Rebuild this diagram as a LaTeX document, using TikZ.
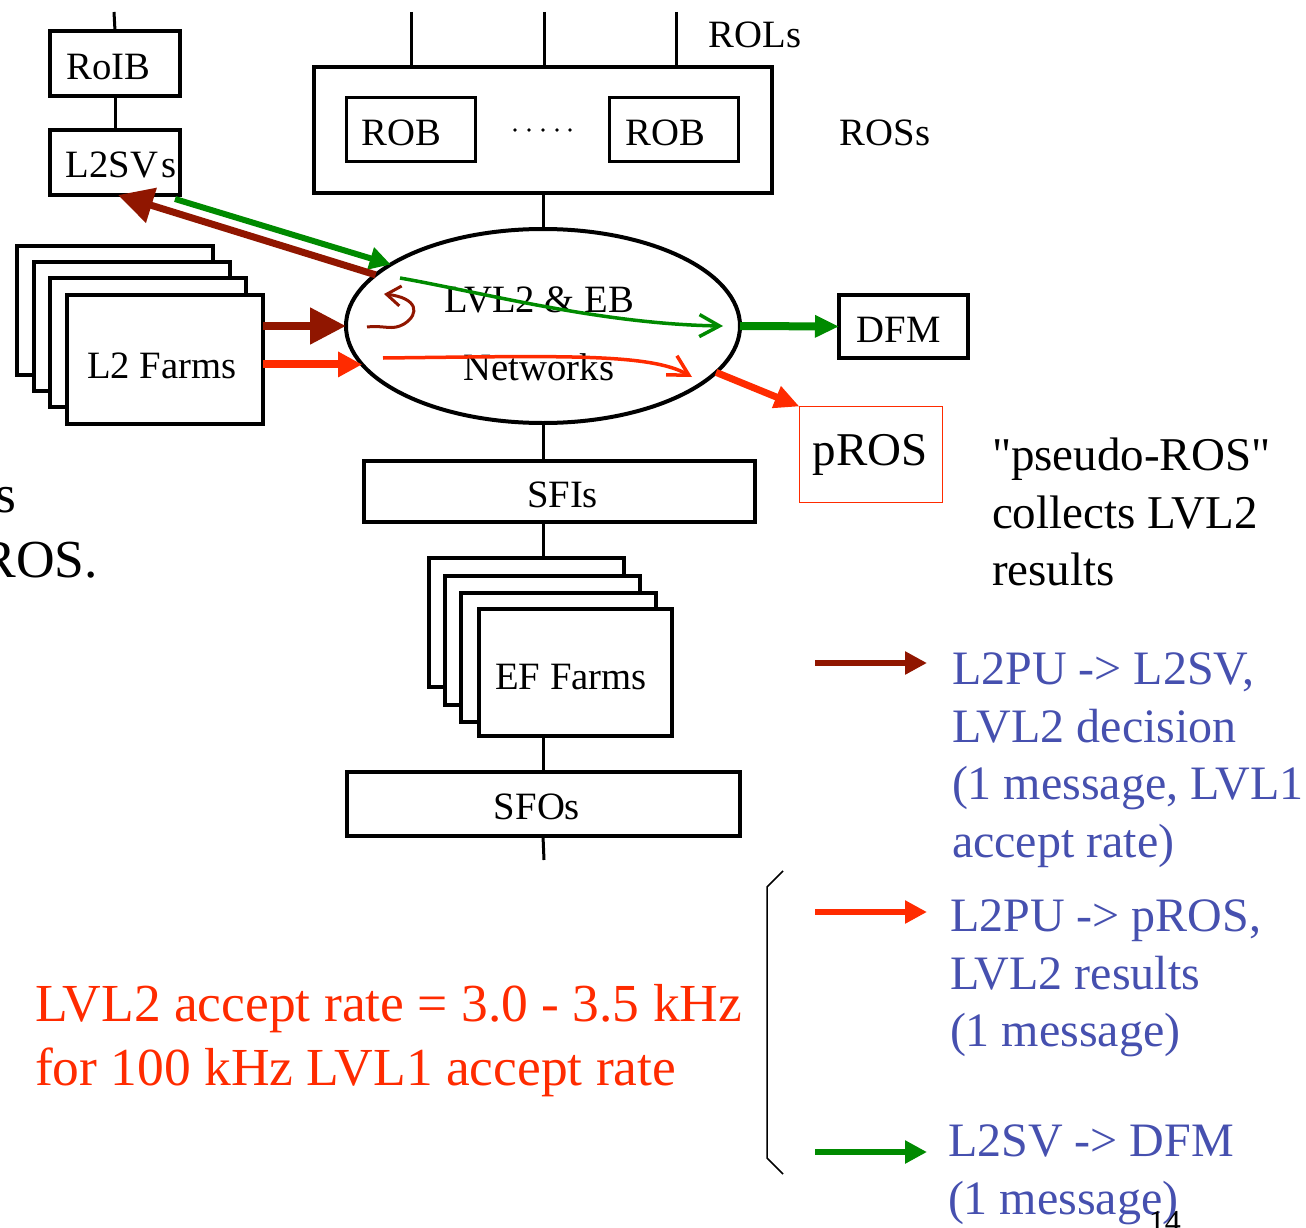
\documentclass[tikz,border=0pt]{standalone}
\usepackage{fontspec}
\setmainfont{Liberation Serif}
% same face without TeX ligatures, so that " stays a straight quote
\newfontfamily\plainserif{Liberation Serif}
\usetikzlibrary{arrows.meta,shapes.geometric}
\definecolor{decisionred}{HTML}{901600}
\definecolor{resultred}{HTML}{FF2B00}
\definecolor{dfmgreen}{HTML}{008A00}
\definecolor{legendblue}{HTML}{4650AF}
\newcommand\diagfont{\fontsize{38.7}{46}\selectfont}
\newcommand\notefont{\fontsize{47}{57.5}\selectfont}
\newcommand\legfont{\fontsize{48}{57.5}\selectfont}
\newcommand\ratefont{\fontsize{53.5}{64}\selectfont}
\begin{document}
\begin{tikzpicture}[x=1pt,y=-1pt,
  box/.style={draw, rectangle, line width=4pt, inner sep=0pt, outer sep=0pt,
              fill=white, font=\diagfont},
  robbox/.style={box, line width=3pt, minimum width=129pt, minimum height=64pt},
  farm/.style={box, minimum width=196pt, minimum height=129pt},
  wire/.style={line width=3pt},
  label/.style={inner sep=0pt, outer sep=0pt, font=\diagfont},
  note/.style={anchor=north west, inner sep=0pt, outer sep=0pt, align=left},
  legarrow/.style={line width=6pt, -{Triangle[length=22pt,width=22pt]}},
  flow/.style={line width=3.5pt, -{Straight Barb[length=20pt,width=22pt]}}]
\useasboundingbox (0,0) rectangle (1306,1228);

% free ends of the input and output links
\coordinate (roibin) at (114,12);
\coordinate (rolA) at (411,12);
\coordinate (rolB) at (544,12);
\coordinate (rolC) at (676,12);
\coordinate (sfoout) at (544,860);

% RoI builder and supervisors
\node[box, minimum width=130pt, minimum height=65pt] (roib) at (115,63.5) {};
\node[label] (roiblbl) at (108.5,67) {RoIB};
\node[box, minimum width=130pt, minimum height=65pt] (l2sv) at (115,162.5) {};
\node[label] (l2svlbl) at (121,165) {L2SV\kern3pt s};
\draw[wire] (roibin) -- (roib.north);
\draw[wire] (roib.south) -- (l2sv.north);

% readout system
\node[box, minimum width=458pt, minimum height=126pt] (ros) at (543,130) {};
\node[robbox] (robA) at (411,129.5) {};
\node[robbox] (robB) at (674,129.5) {};
\node[label] (robAlbl) at (401.5,133) {ROB};
\node[label] (robBlbl) at (665.5,133) {ROB};
\foreach \x in {515,529,543,557,570} \fill (\x,130) circle (1.8pt);
\draw[wire] (rolA) -- (rolA |- ros.north);
\draw[wire] (rolB) -- (rolB |- ros.north);
\draw[wire] (rolC) -- (rolC |- ros.north);
\node[label] (rols) at (755,35) {ROLs};
\node[label] (ross) at (885,133) {ROSs};

% LVL2 and event building network
\node[draw, ellipse, line width=4pt, minimum width=394pt, minimum height=194pt,
      inner sep=0pt, outer sep=0pt] (net) at (543,326) {};
\node[label, align=center, font=\fontsize{38.7}{68}\selectfont] (netlbl) at (539,334)
  {LVL2 \& EB\\Networks};
\draw[wire] (ros.south) -- (net.north);

% LVL2 farms
\node[farm] (l2fa) at (115,310.5) {};
\node[farm] (l2fb) at (132,326.5) {};
\node[farm] (l2fc) at (148,342.5) {};
\node[farm] (l2f)  at (165,359.5) {};
\node[label] (l2flbl) at (162,366) {L2 Farms};

% data flow manager and pseudo-ROS
\node[box, minimum width=129pt, minimum height=63pt] (dfm) at (903.5,326.5) {};
\node[label] (dfmlbl) at (898.5,330) {DFM};
\node[box, draw=resultred, line width=1.5pt, minimum width=143pt, minimum height=96pt] (pros)
  at (871,454.5) {};
\node[label, font=\notefont] (proslbl) at (870,455) {pROS};

% event filter chain
\node[box, minimum width=391pt, minimum height=61pt] (sfi) at (559.5,491.5) {};
\node[label] (sfilbl) at (562.5,495) {SFIs};
\node[farm, minimum width=195pt] (efa) at (526.5,622.5) {};
\node[farm, minimum width=195pt] (efb) at (542.5,640) {};
\node[farm, minimum width=195pt] (efc) at (558.5,657) {};
\node[farm, minimum width=193pt, minimum height=127pt] (ef) at (575.5,672.5) {};
\node[label] (eflbl) at (571,677) {EF Farms};
\node[box, minimum width=393pt, minimum height=64pt] (sfo) at (543.5,804) {};
\node[label] (sfolbl) at (537,807) {SFOs};
\draw[wire] (net.south) -- (net.south |- sfi.north);
\draw[wire] (net.south |- sfi.south) -- (net.south |- efa.north);
\draw[wire] (net.south |- ef.south) -- (net.south |- sfo.north);
\draw[wire] (net.south |- sfo.south) -- (sfoout);

% message paths
\draw[line width=6pt, dfmgreen, -{Triangle[length=21pt,width=22pt]}]
  ([xshift=-5pt,yshift=-4pt]l2sv.south east) -- (net.158);
\draw[line width=7pt, decisionred, -{Triangle[length=35pt,width=35pt]}]
  (net.163) -- ([xshift=3pt]l2sv.south);
\draw[line width=8pt, decisionred, -{Triangle[length=36pt,width=35pt]}]
  (l2f.east |- net.west) -- (net.west);
\draw[line width=8pt, resultred, -{Triangle[length=24pt,width=24pt]}]
  (l2f.east |- net.192) -- (net.192);
\draw[line width=8pt, dfmgreen, -{Triangle[length=24pt,width=21pt]}]
  (net.east) -- (dfm.west);
\draw[line width=7pt, resultred, -{Triangle[length=25pt,width=22pt]}]
  (net.345) -- (pros.north west);

% routes through the network
\coordinate (uA) at (367,327);
\coordinate (uB) at (384,294);
\coordinate (gA) at (400,278);
\coordinate (gB) at (723,326);
\coordinate (rA) at (383,358);
\coordinate (rB) at (692,377);
\draw[flow, decisionred, line width=3pt, -{Straight Barb[length=14pt,width=20pt]}]
  (uA) .. controls (385,325) and (392,331) .. (404,324)
       .. controls (420,314) and (418,298) .. (uB);
\draw[flow, dfmgreen] (gA) .. controls (480,292) and (600,324) .. (gB);
\draw[flow, resultred] (rA) .. controls (560,356) and (650,353) .. (rB);

% notes
\node[note, font=\notefont\plainserif] (prosnote) at (992,438)
  {"pseudo-ROS"\\collects LVL2\\results};
\node[anchor=base east, inner sep=0pt, font=\ratefont] (cutA) at (17,512) {s};
\node[anchor=base east, inner sep=0pt, font=\ratefont] (cutB) at (98,577) {ROS.};
\node[note, font=\ratefont, text=resultred] (rate) at (35,984)
  {LVL2 accept rate = 3.0 - 3.5 kHz\\for 100 kHz LVL1 accept rate};

% legend
\coordinate (lgAs) at (815,663);  \coordinate (lgAe) at (927,663);
\coordinate (lgBs) at (815,912);  \coordinate (lgBe) at (927,912);
\coordinate (lgCs) at (815,1152); \coordinate (lgCe) at (927,1152);
\draw[legarrow, decisionred] (lgAs) -- (lgAe);
\draw[legarrow, resultred] (lgBs) -- (lgBe);
\draw[legarrow, dfmgreen] (lgCs) -- (lgCe);
\node[note, font=\legfont, text=legendblue] (legA) at (952,653)
  {L2PU -> L2SV,\\LVL2 decision\\(1 message, LVL1\\accept rate)};
\node[note, font=\legfont, text=legendblue] (legB) at (950,900)
  {L2PU -> pROS,\\LVL2 results\\(1 message)};
\node[note, font=\legfont, text=legendblue] (legC) at (948,1125)
  {L2SV -> DFM\\(1 message)};
\draw[line width=1.5pt] (783,871) -- (767,887) -- (767,1158) -- (783,1174);

% page number
\node[anchor=base east, inner sep=0pt, font=\fontsize{32}{38}\selectfont] (pageno)
  at (1181,1232) {14};
\end{tikzpicture}
\end{document}
